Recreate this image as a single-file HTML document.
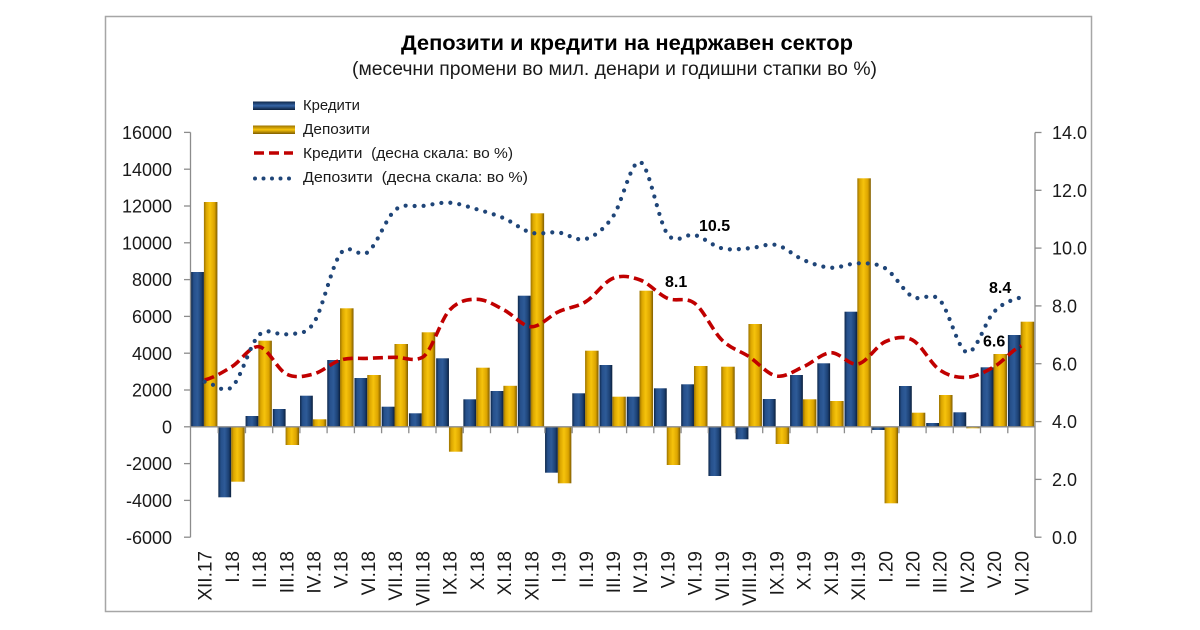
<!DOCTYPE html>
<html><head><meta charset="utf-8"><style>
html,body{margin:0;padding:0;background:#fff;}
svg{display:block;}
text{font-family:"Liberation Sans",Tahoma,sans-serif;fill:#1a1a1a;}
</style></head><body>
<svg width="1200" height="630" viewBox="0 0 1200 630" xmlns="http://www.w3.org/2000/svg">
<defs>
<linearGradient id="gb" x1="0" y1="0" x2="1" y2="0">
<stop offset="0" stop-color="#0e2749"/><stop offset="0.2" stop-color="#26508b"/><stop offset="0.5" stop-color="#2e5b98"/><stop offset="0.8" stop-color="#1c4174"/><stop offset="1" stop-color="#0b1f3c"/>
</linearGradient>
<linearGradient id="gg" x1="0" y1="0" x2="1" y2="0">
<stop offset="0" stop-color="#9a7200"/><stop offset="0.18" stop-color="#dba600"/><stop offset="0.45" stop-color="#f6c30c"/><stop offset="0.78" stop-color="#dca400"/><stop offset="1" stop-color="#7e5c00"/>
</linearGradient>
<linearGradient id="gbv" x1="0" y1="0" x2="0" y2="1">
<stop offset="0" stop-color="#0e2749"/><stop offset="0.5" stop-color="#3565a6"/><stop offset="1" stop-color="#0b1f3c"/>
</linearGradient>
<linearGradient id="ggv" x1="0" y1="0" x2="0" y2="1">
<stop offset="0" stop-color="#9a7200"/><stop offset="0.5" stop-color="#f6c30c"/><stop offset="1" stop-color="#7e5c00"/>
</linearGradient>
</defs>

<rect x="105.5" y="16.5" width="986" height="595" fill="#fff" stroke="#a6a6a6" stroke-width="1.5"/>

<!-- Title -->
<text x="401" y="50" font-size="21.5" font-weight="bold" textLength="452" lengthAdjust="spacingAndGlyphs" style="fill:#000">Депозити и кредити на недржавен сектор</text>
<text x="352" y="75" font-size="19" textLength="525" lengthAdjust="spacingAndGlyphs">(месечни промени во мил. денари и годишни стапки во %)</text>

<!-- Legend -->
<rect x="253" y="101.5" width="42" height="8.5" fill="url(#gbv)"/>
<rect x="253" y="125.5" width="42" height="8.5" fill="url(#ggv)"/>
<line x1="254" y1="153" x2="293" y2="153" stroke="#c00000" stroke-width="3.5" stroke-dasharray="10 5"/>
<line x1="255" y1="178.5" x2="293" y2="178.5" stroke="#1f4578" stroke-width="4" stroke-linecap="round" stroke-dasharray="0 8.5"/>
<text x="303" y="110" font-size="15" textLength="57" lengthAdjust="spacingAndGlyphs">Кредити</text>
<text x="303" y="134" font-size="15" textLength="67" lengthAdjust="spacingAndGlyphs">Депозити</text>
<text x="303" y="158" font-size="15" textLength="210" lengthAdjust="spacingAndGlyphs" xml:space="preserve">Кредити  (десна скала: во %)</text>
<text x="303" y="182" font-size="15" textLength="225" lengthAdjust="spacingAndGlyphs" xml:space="preserve">Депозити  (десна скала: во %)</text>

<!-- Left axis -->
<g stroke="#8c8c8c" stroke-width="1.3">
<line x1="190.5" y1="132.4" x2="190.5" y2="537.2"/>
<line x1="184" y1="132.4" x2="190.5" y2="132.4"/>
<line x1="184" y1="169.2" x2="190.5" y2="169.2"/>
<line x1="184" y1="206" x2="190.5" y2="206"/>
<line x1="184" y1="242.8" x2="190.5" y2="242.8"/>
<line x1="184" y1="279.6" x2="190.5" y2="279.6"/>
<line x1="184" y1="316.4" x2="190.5" y2="316.4"/>
<line x1="184" y1="353.2" x2="190.5" y2="353.2"/>
<line x1="184" y1="390" x2="190.5" y2="390"/>
<line x1="184" y1="426.8" x2="190.5" y2="426.8"/>
<line x1="184" y1="463.6" x2="190.5" y2="463.6"/>
<line x1="184" y1="500.4" x2="190.5" y2="500.4"/>
<line x1="184" y1="537.2" x2="190.5" y2="537.2"/>
<!-- right axis -->
<line x1="1035" y1="132.5" x2="1035" y2="537.2"/>
<line x1="1035" y1="132.5" x2="1041.5" y2="132.5"/>
<line x1="1035" y1="190.3" x2="1041.5" y2="190.3"/>
<line x1="1035" y1="248.1" x2="1041.5" y2="248.1"/>
<line x1="1035" y1="305.9" x2="1041.5" y2="305.9"/>
<line x1="1035" y1="363.7" x2="1041.5" y2="363.7"/>
<line x1="1035" y1="421.6" x2="1041.5" y2="421.6"/>
<line x1="1035" y1="479.4" x2="1041.5" y2="479.4"/>
<line x1="1035" y1="537.2" x2="1041.5" y2="537.2"/>
</g>
<g font-size="18" text-anchor="end">
<text x="172" y="139">16000</text>
<text x="172" y="175.8">14000</text>
<text x="172" y="212.6">12000</text>
<text x="172" y="249.4">10000</text>
<text x="172" y="286.2">8000</text>
<text x="172" y="323">6000</text>
<text x="172" y="359.8">4000</text>
<text x="172" y="396.6">2000</text>
<text x="172" y="433.4">0</text>
<text x="172" y="470.2">-2000</text>
<text x="172" y="507">-4000</text>
<text x="172" y="543.8">-6000</text>
</g>
<g font-size="18">
<text x="1052" y="139">14.0</text>
<text x="1052" y="196.9">12.0</text>
<text x="1052" y="254.7">10.0</text>
<text x="1052" y="312.5">8.0</text>
<text x="1052" y="370.3">6.0</text>
<text x="1052" y="428.2">4.0</text>
<text x="1052" y="486">2.0</text>
<text x="1052" y="543.8">0.0</text>
</g>

<!-- Blue bars (Кредити) -->
<g fill="url(#gb)">
<rect x="191.11" y="272" width="12.8" height="154.8"/>
<rect x="218.34" y="426.8" width="12.8" height="70.5"/>
<rect x="245.56" y="416" width="12.8" height="10.8"/>
<rect x="272.79" y="409" width="12.8" height="17.8"/>
<rect x="300.02" y="395.7" width="12.8" height="31.1"/>
<rect x="327.24" y="360" width="12.8" height="66.8"/>
<rect x="354.47" y="378" width="12.8" height="48.8"/>
<rect x="381.69" y="406.7" width="12.8" height="20.1"/>
<rect x="408.92" y="413.3" width="12.8" height="13.5"/>
<rect x="436.15" y="358.3" width="12.8" height="68.5"/>
<rect x="463.37" y="399.3" width="12.8" height="27.5"/>
<rect x="490.6" y="391" width="12.8" height="35.8"/>
<rect x="517.82" y="295.7" width="12.8" height="131.1"/>
<rect x="545.05" y="426.8" width="12.8" height="45.9"/>
<rect x="572.28" y="393.3" width="12.8" height="33.5"/>
<rect x="599.5" y="365" width="12.8" height="61.8"/>
<rect x="626.73" y="396.7" width="12.8" height="30.1"/>
<rect x="653.95" y="388.3" width="12.8" height="38.5"/>
<rect x="681.18" y="384.3" width="12.8" height="42.5"/>
<rect x="708.41" y="426.8" width="12.8" height="49.2"/>
<rect x="735.63" y="426.8" width="12.8" height="12.5"/>
<rect x="762.86" y="399" width="12.8" height="27.8"/>
<rect x="790.08" y="375" width="12.8" height="51.8"/>
<rect x="817.31" y="363.3" width="12.8" height="63.5"/>
<rect x="844.53" y="311.7" width="12.8" height="115.1"/>
<rect x="871.76" y="426.8" width="12.8" height="3.2"/>
<rect x="898.99" y="386" width="12.8" height="40.8"/>
<rect x="926.21" y="423" width="12.8" height="3.8"/>
<rect x="953.44" y="412.3" width="12.8" height="14.5"/>
<rect x="980.66" y="367.3" width="12.8" height="59.5"/>
<rect x="1007.89" y="335" width="12.8" height="91.8"/>
</g>
<!-- Gold bars (Депозити) -->
<g fill="url(#gg)">
<rect x="203.91" y="202" width="13.5" height="224.8"/>
<rect x="231.14" y="426.8" width="13.5" height="54.9"/>
<rect x="258.36" y="340.7" width="13.5" height="86.1"/>
<rect x="285.59" y="426.8" width="13.5" height="18.2"/>
<rect x="312.82" y="419.3" width="13.5" height="7.5"/>
<rect x="340.04" y="308.3" width="13.5" height="118.5"/>
<rect x="367.27" y="375" width="13.5" height="51.8"/>
<rect x="394.49" y="344" width="13.5" height="82.8"/>
<rect x="421.72" y="332.3" width="13.5" height="94.5"/>
<rect x="448.95" y="426.8" width="13.5" height="24.9"/>
<rect x="476.17" y="367.7" width="13.5" height="59.1"/>
<rect x="503.4" y="385.8" width="13.5" height="41"/>
<rect x="530.62" y="213.3" width="13.5" height="213.5"/>
<rect x="557.85" y="426.8" width="13.5" height="56.5"/>
<rect x="585.08" y="350.7" width="13.5" height="76.1"/>
<rect x="612.3" y="396.7" width="13.5" height="30.1"/>
<rect x="639.53" y="290.7" width="13.5" height="136.1"/>
<rect x="666.75" y="426.8" width="13.5" height="38.2"/>
<rect x="693.98" y="366" width="13.5" height="60.8"/>
<rect x="721.21" y="366.7" width="13.5" height="60.1"/>
<rect x="748.43" y="324" width="13.5" height="102.8"/>
<rect x="775.66" y="426.8" width="13.5" height="17.2"/>
<rect x="802.88" y="399.3" width="13.5" height="27.5"/>
<rect x="830.11" y="401" width="13.5" height="25.8"/>
<rect x="857.33" y="178.3" width="13.5" height="248.5"/>
<rect x="884.56" y="426.8" width="13.5" height="76.5"/>
<rect x="911.79" y="412.7" width="13.5" height="14.1"/>
<rect x="939.01" y="395" width="13.5" height="31.8"/>
<rect x="966.24" y="426.8" width="13.5" height="1.5"/>
<rect x="993.46" y="354" width="13.5" height="72.8"/>
<rect x="1020.69" y="321.7" width="13.5" height="105.1"/>
</g>

<!-- Category axis (zero line) with ticks -->
<g stroke="#8c8c8c" stroke-width="1.3">
<line x1="190.5" y1="426.8" x2="1035" y2="426.8"/>
<path d="M218.2 426.8v6.5M245.5 426.8v6.5M272.7 426.8v6.5M299.9 426.8v6.5M327.1 426.8v6.5M354.4 426.8v6.5M381.6 426.8v6.5M408.8 426.8v6.5M436 426.8v6.5M463.3 426.8v6.5M490.5 426.8v6.5M517.7 426.8v6.5M544.9 426.8v6.5M572.2 426.8v6.5M599.4 426.8v6.5M626.6 426.8v6.5M653.8 426.8v6.5M681.1 426.8v6.5M708.3 426.8v6.5M735.5 426.8v6.5M762.7 426.8v6.5M790 426.8v6.5M817.2 426.8v6.5M844.4 426.8v6.5M871.6 426.8v6.5M898.9 426.8v6.5M926.1 426.8v6.5M953.3 426.8v6.5M980.5 426.8v6.5M1007.8 426.8v6.5"/>
</g>

<!-- Lines -->
<path fill="none" stroke="#c00000" stroke-width="3.6" stroke-dasharray="10 5" d="M204.61,380 C213.69,377.78 222.76,372.25 231.84,366.7 S249.98,345.48 259.06,346.7 S277.21,369.45 286.29,374 S304.44,376.33 313.52,374 S331.66,362.62 340.74,360 S358.89,358.75 367.97,358.3 S386.11,357.47 395.19,357.3 S413.34,362.18 422.42,357.3 S440.57,319.67 449.65,310 S467.79,299.3 476.87,299.3 S495.02,305.43 504.10,310 S522.24,326.42 531.32,326.7 S549.47,315.87 558.55,311.7 S576.70,307.27 585.78,301.7 S603.92,281.92 613.00,278.3 S631.15,276.67 640.23,280 S658.37,294.42 667.45,298.3 S685.60,296.35 694.68,303.3 S712.83,331.1 721.91,340 S740.05,350.7 749.13,356.7 S767.28,374.33 776.36,376 S794.50,370.58 803.58,366.7 S821.73,353.15 830.81,352.7 S848.95,365.83 858.03,364 S876.18,345.7 885.26,341.7 S903.41,335.28 912.49,340 S930.63,363.78 939.71,370 S957.86,377.85 966.94,377.3 S985.08,371.92 994.16,366.7 S1012.31,349.45 1021.39,346"/>
<path fill="none" stroke="#1f4578" stroke-width="4.2" stroke-linecap="round" stroke-dasharray="0 9" d="M204.61,381.7 C213.69,382.58 222.76,394.78 231.84,387 S249.98,343.78 259.06,335 S277.21,336.25 286.29,334.3 S304.44,336.8 313.52,323.3 S331.66,265.18 340.74,253.3 S358.89,259.22 367.97,252 S386.11,217.67 395.19,210 S413.34,207.22 422.42,206 S440.57,202.15 449.65,202.7 S467.79,206.7 476.87,209.3 S495.02,214.4 504.10,218.3 S522.24,230.33 531.32,232.7 S549.47,231.45 558.55,232.5 S576.70,241.67 585.78,239 S603.92,229.33 613.00,216.5 S631.15,159.08 640.23,162 S658.37,221.83 667.45,234 S685.60,232.62 694.68,235 S712.83,246.08 721.91,248.3 S740.05,248.85 749.13,248.3 S767.28,243.05 776.36,245 S794.50,256.22 803.58,260 S821.73,267.15 830.81,267.7 S848.95,263.2 858.03,263.3 S876.18,262.73 885.26,268.3 S903.41,291.42 912.49,296.7 S930.63,290.73 939.71,300 S957.86,350.35 966.94,352.3 S985.08,320.87 994.16,311.7 S1012.31,299.7 1021.39,297.3"/>

<!-- Data labels -->
<g font-size="16" font-weight="bold">
<text x="699" y="231" style="fill:#000">10.5</text>
<text x="665" y="287" style="fill:#000">8.1</text>
<text x="989" y="293" style="fill:#000">8.4</text>
<text x="983" y="346.5" style="fill:#000">6.6</text>
</g>

<!-- X labels -->
<g font-size="19" text-anchor="end">
<text transform="translate(211.6,551) rotate(-90)">XII.17</text>
<text transform="translate(238.8,551) rotate(-90)">I.18</text>
<text transform="translate(266.1,551) rotate(-90)">II.18</text>
<text transform="translate(293.3,551) rotate(-90)">III.18</text>
<text transform="translate(320.5,551) rotate(-90)">IV.18</text>
<text transform="translate(347.7,551) rotate(-90)">V.18</text>
<text transform="translate(375,551) rotate(-90)">VI.18</text>
<text transform="translate(402.2,551) rotate(-90)">VII.18</text>
<text transform="translate(429.4,551) rotate(-90)">VIII.18</text>
<text transform="translate(456.6,551) rotate(-90)">IX.18</text>
<text transform="translate(483.9,551) rotate(-90)">X.18</text>
<text transform="translate(511.1,551) rotate(-90)">XI.18</text>
<text transform="translate(538.3,551) rotate(-90)">XII.18</text>
<text transform="translate(565.5,551) rotate(-90)">I.19</text>
<text transform="translate(592.8,551) rotate(-90)">II.19</text>
<text transform="translate(620,551) rotate(-90)">III.19</text>
<text transform="translate(647.2,551) rotate(-90)">IV.19</text>
<text transform="translate(674.5,551) rotate(-90)">V.19</text>
<text transform="translate(701.7,551) rotate(-90)">VI.19</text>
<text transform="translate(728.9,551) rotate(-90)">VII.19</text>
<text transform="translate(756.1,551) rotate(-90)">VIII.19</text>
<text transform="translate(783.4,551) rotate(-90)">IX.19</text>
<text transform="translate(810.6,551) rotate(-90)">X.19</text>
<text transform="translate(837.8,551) rotate(-90)">XI.19</text>
<text transform="translate(865,551) rotate(-90)">XII.19</text>
<text transform="translate(892.3,551) rotate(-90)">I.20</text>
<text transform="translate(919.5,551) rotate(-90)">II.20</text>
<text transform="translate(946.7,551) rotate(-90)">III.20</text>
<text transform="translate(973.9,551) rotate(-90)">IV.20</text>
<text transform="translate(1001.2,551) rotate(-90)">V.20</text>
<text transform="translate(1028.4,551) rotate(-90)">VI.20</text>
</g>
</svg>
</body></html>
